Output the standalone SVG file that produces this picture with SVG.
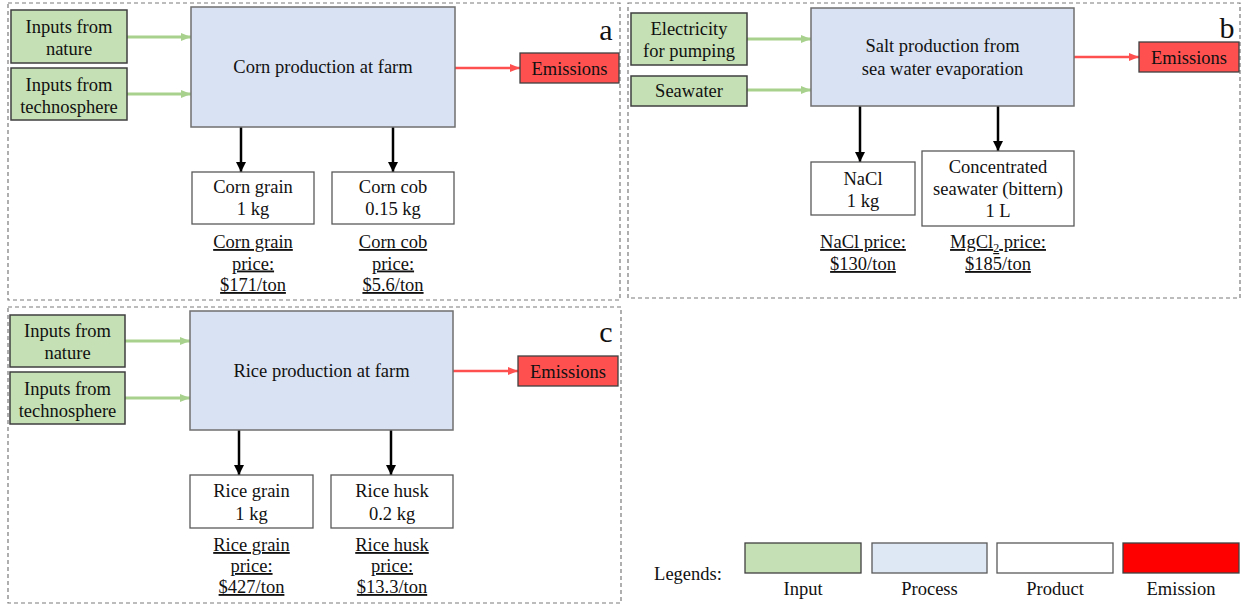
<svg xmlns="http://www.w3.org/2000/svg" width="1243" height="604" viewBox="0 0 1243 604">
<style>
text{font-family:"Liberation Serif","Times New Roman",serif;font-size:18.5px;fill:#111;text-anchor:middle}
.panel{fill:none;stroke:#7a7a7a;stroke-width:1.2;stroke-dasharray:4 3}
.inp{fill:#c5e0b4;stroke:#3f3f3f;stroke-width:1.5}
.proc{fill:#d9e2f3;stroke:#6f6f6f;stroke-width:1.5}
.prod{fill:#fff;stroke:#595959;stroke-width:1.3}
.emi{fill:#ff5050;stroke:#404040;stroke-width:1.3}
.lbl{font-size:30px}
.u{text-decoration:underline}
.ga{stroke:#a9d18e;stroke-width:2.8;fill:none;marker-end:url(#mg)}
.ra{stroke:#ff5050;stroke-width:2.4;fill:none;marker-end:url(#mr)}
.ba{stroke:#000;stroke-width:2.5;fill:none;marker-end:url(#mb)}
</style>
<defs>
<marker id="mg" markerUnits="userSpaceOnUse" markerWidth="10" markerHeight="8" refX="10" refY="4" orient="auto"><path d="M0,0 L10,4 L0,8 z" fill="#a9d18e"/></marker>
<marker id="mr" markerUnits="userSpaceOnUse" markerWidth="10" markerHeight="8" refX="10" refY="4" orient="auto"><path d="M0,0 L10,4 L0,8 z" fill="#ff5050"/></marker>
<marker id="mb" markerUnits="userSpaceOnUse" markerWidth="10" markerHeight="10" refX="10" refY="5" orient="auto"><path d="M0,0 L10,5 L0,10 z" fill="#000"/></marker>
</defs>
<rect width="1243" height="604" fill="#fff"/>

<g id="panels">
<rect class="panel" x="8" y="3" width="612" height="297"/>
<rect class="panel" x="628" y="3" width="612" height="295"/>
<rect class="panel" x="8" y="307" width="613" height="296"/>
<text class="lbl" x="606" y="40">a</text>
<text class="lbl" x="1227" y="38">b</text>
<text class="lbl" x="606" y="342">c</text>
</g>

<g id="connectors">
<line class="ga" x1="127" y1="37" x2="191" y2="37"/>
<line class="ga" x1="127" y1="94" x2="191" y2="94"/>
<line class="ra" x1="455" y1="68" x2="520" y2="68"/>
<line class="ba" x1="241" y1="127" x2="241" y2="172"/>
<line class="ba" x1="393" y1="127" x2="393" y2="172"/>
<line class="ga" x1="747" y1="39" x2="811" y2="39"/>
<line class="ga" x1="747" y1="90" x2="811" y2="90"/>
<line class="ra" x1="1074" y1="57" x2="1139" y2="57"/>
<line class="ba" x1="860" y1="106" x2="860" y2="162"/>
<line class="ba" x1="998" y1="106" x2="998" y2="151"/>
<line class="ga" x1="125" y1="341" x2="190" y2="341"/>
<line class="ga" x1="125" y1="398" x2="190" y2="398"/>
<line class="ra" x1="453" y1="371" x2="518" y2="371"/>
<line class="ba" x1="239" y1="430" x2="239" y2="475"/>
<line class="ba" x1="391" y1="430" x2="391" y2="475"/>
</g>

<g id="a-nature"><rect class="inp" x="11" y="10" width="116" height="53"/><text x="69" y="33">Inputs from</text><text x="69" y="55">nature</text></g>
<g id="a-techno"><rect class="inp" x="11" y="68" width="116" height="52"/><text x="69" y="91">Inputs from</text><text x="69" y="113">technosphere</text></g>
<g id="a-process"><rect class="proc" x="191" y="7" width="264" height="120"/><text x="323" y="73">Corn production at farm</text></g>
<g id="a-emissions"><rect class="emi" x="520" y="53" width="99" height="30"/><text x="569.5" y="75">Emissions</text></g>
<g id="a-grain"><rect class="prod" x="192" y="172" width="122" height="52"/><text x="253" y="193">Corn grain</text><text x="253" y="215">1 kg</text></g>
<g id="a-cob"><rect class="prod" x="332" y="172" width="122" height="52"/><text x="393" y="193">Corn cob</text><text x="393" y="215">0.15 kg</text></g>
<g id="a-grain-price"><text class="u" x="253" y="248">Corn grain</text><text class="u" x="253" y="269.5">price:</text><text class="u" x="253" y="291">$171/ton</text></g>
<g id="a-cob-price"><text class="u" x="393" y="248">Corn cob</text><text class="u" x="393" y="269.5">price:</text><text class="u" x="393" y="291">$5.6/ton</text></g>

<g id="b-elec"><rect class="inp" x="631" y="13" width="116" height="52"/><text x="689" y="35">Electricity</text><text x="689" y="57">for pumping</text></g>
<g id="b-sea"><rect class="inp" x="631" y="76" width="116" height="30"/><text x="689" y="97">Seawater</text></g>
<g id="b-process"><rect class="proc" x="811" y="8" width="263" height="98"/><text x="942.5" y="52">Salt production from</text><text x="942.5" y="75">sea water evaporation</text></g>
<g id="b-emissions"><rect class="emi" x="1139" y="42" width="100" height="30"/><text x="1189" y="64">Emissions</text></g>
<g id="b-nacl"><rect class="prod" x="811" y="162" width="104" height="53"/><text x="863" y="185">NaCl</text><text x="863" y="207">1 kg</text></g>
<g id="b-bittern"><rect class="prod" x="922" y="151" width="152" height="75"/><text x="998" y="173">Concentrated</text><text x="998" y="195">seawater (bittern)</text><text x="998" y="217">1 L</text></g>
<g id="b-nacl-price"><text class="u" x="863" y="248">NaCl price:</text><text class="u" x="863" y="270">$130/ton</text></g>
<g id="b-mgcl-price"><text class="u" x="998" y="248">MgCl<tspan font-size="12" dy="4">2</tspan><tspan dy="-4"> price:</tspan></text><text class="u" x="998" y="270">$185/ton</text></g>

<g id="c-nature"><rect class="inp" x="10" y="315" width="115" height="52"/><text x="67.5" y="337">Inputs from</text><text x="67.5" y="359">nature</text></g>
<g id="c-techno"><rect class="inp" x="10" y="372" width="115" height="52"/><text x="67.5" y="395">Inputs from</text><text x="67.5" y="417">technosphere</text></g>
<g id="c-process"><rect class="proc" x="190" y="311" width="263" height="119"/><text x="321.5" y="377">Rice production at farm</text></g>
<g id="c-emissions"><rect class="emi" x="518" y="356" width="100" height="30"/><text x="568" y="378">Emissions</text></g>
<g id="c-grain"><rect class="prod" x="190" y="475" width="123" height="53"/><text x="251.5" y="497">Rice grain</text><text x="251.5" y="520">1 kg</text></g>
<g id="c-husk"><rect class="prod" x="331" y="475" width="122" height="53"/><text x="392" y="497">Rice husk</text><text x="392" y="520">0.2 kg</text></g>
<g id="c-grain-price"><text class="u" x="251.5" y="551">Rice grain</text><text class="u" x="251.5" y="572">price:</text><text class="u" x="251.5" y="593">$427/ton</text></g>
<g id="c-husk-price"><text class="u" x="392" y="551">Rice husk</text><text class="u" x="392" y="572">price:</text><text class="u" x="392" y="593">$13.3/ton</text></g>

<g id="legend">
<text x="688" y="580">Legends:</text>
<rect x="745" y="543" width="116" height="30" fill="#c5e0b4" stroke="#404040" stroke-width="1.3"/>
<rect x="872" y="543" width="115" height="30" fill="#dee8f5" stroke="#595959" stroke-width="1.3"/>
<rect x="997" y="543" width="116" height="30" fill="#fff" stroke="#595959" stroke-width="1.3"/>
<rect x="1123" y="543" width="116" height="30" fill="#ff0000" stroke="#404040" stroke-width="1.3"/>
<text x="803" y="595">Input</text>
<text x="929.5" y="595">Process</text>
<text x="1055" y="595">Product</text>
<text x="1181" y="595">Emission</text>
</g>
</svg>
